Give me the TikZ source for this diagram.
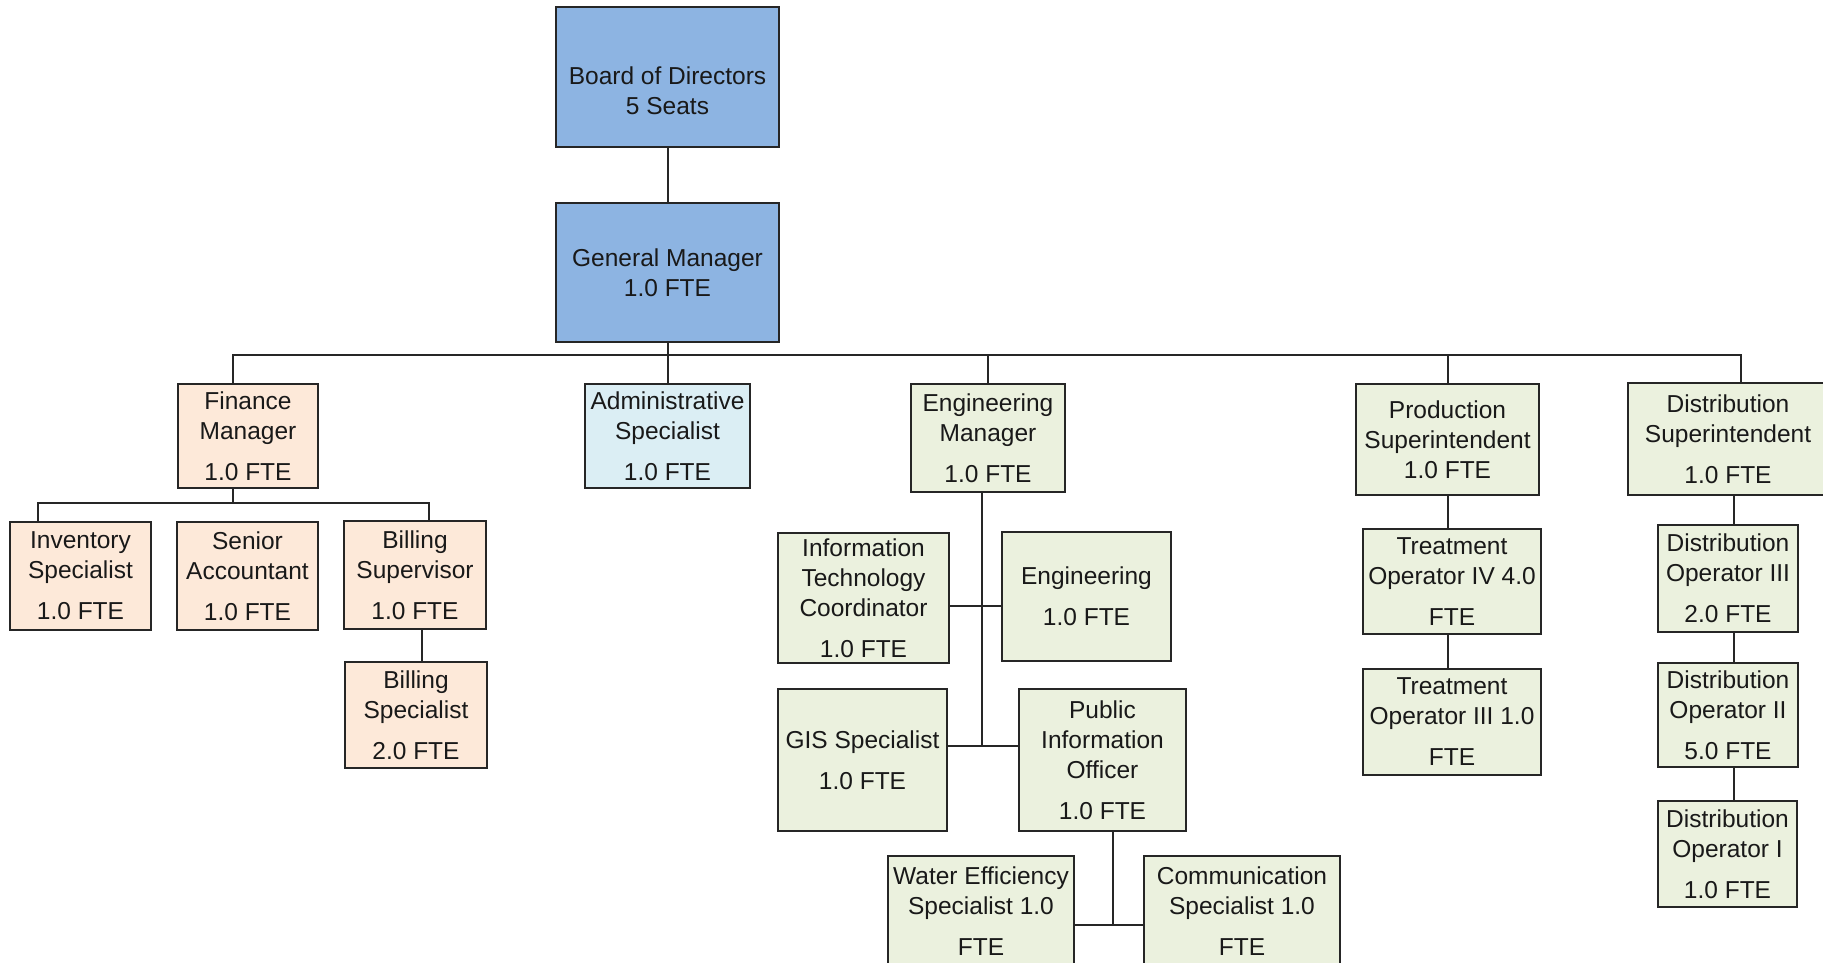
\documentclass[tikz,border=0pt]{standalone}
\usepackage{fontspec}
\newfontfamily\chartfont{Liberation Sans}
\definecolor{boardblue}{HTML}{8DB4E2}
\definecolor{finpeach}{HTML}{FDE9D9}
\definecolor{adminblue}{HTML}{DBEEF4}
\definecolor{opsgreen}{HTML}{EBF1DE}
\definecolor{edgegray}{HTML}{262626}
\tikzset{boxsize/.style 2 args={minimum width=#1pt, minimum height=#2pt}}

\begin{document}
\begin{tikzpicture}[x=1pt,y=-1pt]
    \path[use as bounding box, fill=white] (0,0) rectangle (1823,962);

    \begin{scope}[every node/.style={draw=edgegray, line width=2pt, inner sep=2pt, align=center,
        text=black!90, font=\chartfont\fontsize{24.5}{30}\selectfont}]
      \node[fill=boardblue, boxsize={223}{140}] (board) at (667.5,77)
        {\raisebox{-16.5pt}[\height][\depth]{\begin{tabular}{@{}c@{}}Board of Directors\\5 Seats\end{tabular}}};
      \node[fill=boardblue, boxsize={223}{139}] (gm) at (667.5,272.5) {General Manager\\1.0 FTE};

      \node[fill=finpeach, boxsize={140}{104}] (fin) at (248,436) {Finance\\Manager\\[11pt]1.0 FTE};
      \node[fill=adminblue, boxsize={165}{104}] (admin) at (667.5,436) {Administrative\\Specialist\\[11pt]1.0 FTE};
      \node[fill=opsgreen, boxsize={154}{108}] (engmgr) at (988,438) {Engineering\\Manager\\[11pt]1.0 FTE};
      \node[fill=opsgreen, boxsize={183}{111}] (prod) at (1447.5,439.5) {Production\\Superintendent\\1.0 FTE};
      \node[fill=opsgreen, boxsize={200}{112}] (dist) at (1728,439) {Distribution\\Superintendent\\[11pt]1.0 FTE};

      \node[fill=finpeach, boxsize={141}{108}] (inv) at (80.5,576) {Inventory\\Specialist\\[11pt]1.0 FTE};
      \node[fill=finpeach, boxsize={141}{108}] (senior) at (247.5,576) {Senior\\Accountant\\[11pt]1.0 FTE};
      \node[fill=finpeach, boxsize={142}{108}] (billsup) at (415,575) {Billing\\Supervisor\\[11pt]1.0 FTE};
      \node[fill=finpeach, boxsize={142}{106}] (billspec) at (416,715) {Billing\\Specialist\\[11pt]2.0 FTE};

      \node[fill=opsgreen, boxsize={171}{130}] (itc) at (863.5,598) {Information\\Technology\\Coordinator\\[11pt]1.0 FTE};
      \node[fill=opsgreen, boxsize={169}{129}] (eng) at (1086.5,596.5) {Engineering\\[11pt]1.0 FTE};
      \node[fill=opsgreen, boxsize={169}{142}] (gis) at (862.5,760) {GIS Specialist\\[11pt]1.0 FTE};
      \node[fill=opsgreen, boxsize={167}{142}] (pio) at (1102.5,760) {Public\\Information\\Officer\\[11pt]1.0 FTE};
      \node[fill=opsgreen, boxsize={186}{110}] (water) at (981,911) {Water Efficiency\\Specialist 1.0\\[11pt]FTE};
      \node[fill=opsgreen, boxsize={196}{110}] (comm) at (1242,911) {Communication\\Specialist 1.0\\[11pt]FTE};

      \node[fill=opsgreen, boxsize={178}{105}] (treat4) at (1452,581.5) {Treatment\\Operator IV 4.0\\[11pt]FTE};
      \node[fill=opsgreen, boxsize={178}{106}] (treat3) at (1452,722) {Treatment\\Operator III 1.0\\[11pt]FTE};

      \node[fill=opsgreen, boxsize={140}{107}] (dist3) at (1728,578.5) {Distribution\\Operator III\\[11pt]2.0 FTE};
      \node[fill=opsgreen, boxsize={140}{104}] (dist2) at (1728,715) {Distribution\\Operator II\\[11pt]5.0 FTE};
      \node[fill=opsgreen, boxsize={139}{106}] (dist1) at (1727.5,854) {Distribution\\Operator I\\[11pt]1.0 FTE};
    \end{scope}

    \begin{scope}[draw=edgegray, line width=2pt]
      \coordinate (topbus) at (667.5,355);
      \coordinate (finbus) at (233,503);
      \coordinate (itrow) at (982,606);
      \coordinate (engstem) at (982,746);
      \coordinate (pioleg) at (1113,925);

      \draw (board) -- (gm);
      \draw (gm) -- (topbus);
      \draw ([xshift=-15pt]fin.north) |- (topbus) -| ([xshift=13pt]dist.north);
      \draw (admin.north) -- (admin.north |- topbus);
      \draw (engmgr.north) -- (engmgr.north |- topbus);
      \draw (prod.north) -- (prod.north |- topbus);

      \draw ([xshift=-15pt]fin.south) -- (finbus);
      \draw ([xshift=-42.5pt]inv.north) |- (finbus) -| ([xshift=14pt]billsup.north);
      \draw ([xshift=7pt]billsup.south) -- ([xshift=6pt]billspec.north);

      \draw ([xshift=-6pt]engmgr.south) -- (engstem);
      \draw (itc.east |- itrow) -- (eng.west |- itrow);
      \draw (gis.east |- engstem) -- (pio.west |- engstem);
      \draw ([xshift=10.5pt]pio.south) -- (pioleg);
      \draw (water.east |- pioleg) -- (comm.west |- pioleg);

      \draw (prod.south) -- (prod.south |- treat4.north);
      \draw (treat4.south -| prod.south) -- (prod.south |- treat3.north);

      \draw ([xshift=6pt]dist.south) -- ([xshift=6pt]dist3.north);
      \draw ([xshift=6pt]dist3.south) -- ([xshift=6pt]dist2.north);
      \draw ([xshift=6pt]dist2.south) -- ([xshift=6.5pt]dist1.north);
    \end{scope}
\end{tikzpicture}
\end{document}
